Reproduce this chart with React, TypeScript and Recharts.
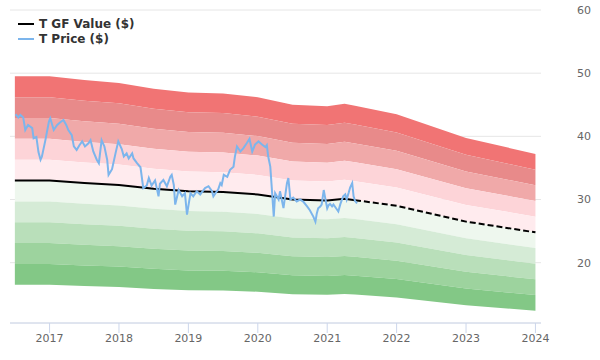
import React from "react";
import {
  ComposedChart,
  Area,
  Line,
  XAxis,
  YAxis,
  CartesianGrid,
  Legend,
} from "recharts";

// GF Value, dates as decimal years
const gfDates = [
  2016.5, 2017.0, 2017.5, 2018.0, 2018.5, 2019.0, 2019.5, 2020.0, 2020.5,
  2021.0, 2021.25, 2021.4,
];
const gfValues = [
  33.0, 33.0, 32.6, 32.3, 31.7, 31.3, 31.2, 30.8, 30.0, 29.85, 30.1, 29.9,
];
// projected part (dashed)
const gfFutureDates = [2021.4, 2022.0, 2023.0, 2024.0];
const gfFutureValues = [29.9, 29.0, 26.5, 24.8];

// T price
const priceDates = [
  2016.51, 2016.55, 2016.58, 2016.62, 2016.65, 2016.69, 2016.75, 2016.77,
  2016.81, 2016.84, 2016.87, 2016.89, 2016.94, 2016.99, 2017.01, 2017.06,
  2017.11, 2017.15, 2017.2, 2017.24, 2017.27, 2017.32, 2017.35, 2017.39,
  2017.43, 2017.47, 2017.51, 2017.56, 2017.59, 2017.63, 2017.68, 2017.71,
  2017.75, 2017.79, 2017.83, 2017.85, 2017.9, 2017.95, 2017.99, 2018.04,
  2018.07, 2018.11, 2018.14, 2018.19, 2018.21, 2018.26, 2018.31, 2018.35,
  2018.4, 2018.43, 2018.47, 2018.52, 2018.57, 2018.59, 2018.64, 2018.69,
  2018.74, 2018.76, 2018.79, 2018.81, 2018.86, 2018.91, 2018.95, 2018.98,
  2019.03, 2019.07, 2019.12, 2019.17, 2019.24, 2019.29, 2019.34, 2019.36,
  2019.41, 2019.43, 2019.46, 2019.48, 2019.51, 2019.56, 2019.6, 2019.65,
  2019.67, 2019.7, 2019.75, 2019.79, 2019.84, 2019.88, 2019.92, 2019.96,
  2020.01, 2020.06, 2020.11, 2020.13, 2020.15, 2020.18, 2020.2, 2020.23,
  2020.25, 2020.3, 2020.32, 2020.37, 2020.42, 2020.44, 2020.47, 2020.51,
  2020.56, 2020.61, 2020.66, 2020.71, 2020.75, 2020.8, 2020.83, 2020.85,
  2020.87, 2020.9, 2020.92, 2020.95, 2020.97, 2021.0, 2021.02, 2021.04,
  2021.07, 2021.09, 2021.11, 2021.16, 2021.19, 2021.23, 2021.26, 2021.28,
  2021.31, 2021.33, 2021.36, 2021.38, 2021.4, 2021.43,
];
const priceValues = [
  43.5, 43.0, 43.4, 43.0, 41.0, 41.8, 41.3, 39.7, 39.9, 37.5, 36.3, 36.8,
  39.4, 42.3, 42.85, 41.0, 41.8, 42.2, 42.6, 41.8, 41.0, 40.2, 38.4, 37.85,
  38.6, 39.2, 38.4, 38.9, 39.4, 37.6, 36.3, 35.75, 39.4, 38.4, 36.3, 33.9,
  34.8, 37.3, 39.2, 38.0, 36.8, 37.3, 36.5, 37.3, 36.5, 35.75, 35.1, 31.8,
  32.2, 33.4, 32.2, 33.0, 30.5, 32.5, 33.1, 32.1, 33.6, 33.9, 32.3, 29.2,
  31.5, 30.5, 31.0, 27.6, 31.0, 30.5, 31.3, 30.8, 31.8, 32.1, 31.3, 30.5,
  31.3, 31.6, 32.6, 32.3, 33.9, 33.6, 34.7, 35.2, 36.8, 38.4, 37.6, 38.1,
  38.9, 39.6, 37.6, 38.7, 39.2, 38.7, 38.3, 38.6, 36.8, 35.2, 32.05, 27.3,
  31.0, 30.0, 31.3, 28.65, 32.6, 33.4, 30.0, 30.3, 29.7, 30.0, 29.6, 28.9,
  28.3, 27.3, 26.5, 27.8, 28.6, 28.9, 29.2, 31.5, 30.3, 28.6, 29.1, 29.3,
  28.9, 29.2, 28.9, 28.1, 29.3, 30.5, 30.8, 30.0, 31.1, 31.9, 32.6, 30.5,
  29.8, 29.4,
];

// valuation bands: lower multiple of GF Value, each band 10% wide
const bandMultiples = [1.4, 1.3, 1.2, 1.1, 1.0, 0.9, 0.8, 0.7, 0.6, 0.5];
const bandColors = [
  "#f17474",
  "#e88a8a",
  "#f0a9a9",
  "#fdd4d8",
  "#ffebee",
  "#eef7ee",
  "#d5ebd6",
  "#b9dfba",
  "#9dd39e",
  "#83c886",
];

const yearTicks = [2017, 2018, 2019, 2020, 2021, 2022, 2023, 2024];
const priceTicks = [20, 30, 40, 50, 60];

const legendItems = [
  { name: "T GF Value ($)", color: "#000000" },
  { name: "T Price ($)", color: "#7cb5ec" },
];

const gfPast = gfDates.map((t, i) => ({ t, gf: gfValues[i] }));
const gfFuture = gfFutureDates.map((t, i) => ({ t, gf: gfFutureValues[i] }));
const gfAll = [...gfPast, ...gfFuture.slice(1)];
const priceData = priceDates.map((t, i) => ({ t, price: priceValues[i] }));

const bands = bandMultiples.map((m) =>
  gfAll.map((p) => ({ t: p.t, range: [p.gf * m, p.gf * (m + 0.1)] }))
);

const renderLegend = () => (
  <div style={{ fontSize: 12, fontWeight: "bold", color: "#333" }}>
    {legendItems.map((item) => (
      <div
        key={item.name}
        style={{ display: "flex", alignItems: "center", height: 15 }}
      >
        <span
          style={{
            display: "inline-block",
            width: 16,
            height: 2,
            background: item.color,
            marginRight: 5,
          }}
        />
        {item.name}
      </div>
    ))}
  </div>
);

const App: React.FC = () => {
  return (
    <div
      style={{
        position: "absolute",
        left: 0,
        top: 0,
        fontFamily: "DejaVu Sans",
        background: "#fff",
      }}
    >
      <ComposedChart
        width={600}
        height={360}
        margin={{ top: 10, right: 0, bottom: 0, left: 10 }}
      >
        <CartesianGrid vertical={false} stroke="#e6e6e6" />
        <XAxis
          type="number"
          dataKey="t"
          domain={[2016.43, 2024.08]}
          ticks={yearTicks}
          allowDataOverflow
          height={37}
          stroke="#ccd6eb"
          tickSize={10}
          tickMargin={1}
          tick={{ fill: "#666", fontSize: 11 }}
        />
        <YAxis
          orientation="right"
          type="number"
          domain={[10.45, 60]}
          ticks={priceTicks}
          allowDataOverflow
          width={59}
          axisLine={false}
          tickLine={false}
          tickSize={0}
          tickMargin={36}
          tick={{ fill: "#666", fontSize: 11 }}
        />
        {bands.map((band, i) => (
          <Area
            key={`band-${i}`}
            data={band}
            dataKey="range"
            type="linear"
            stroke="none"
            fill={bandColors[i]}
            fillOpacity={1}
            isAnimationActive={false}
            legendType="none"
          />
        ))}
        <Line
          data={gfPast}
          dataKey="gf"
          type="linear"
          stroke="#000"
          strokeWidth={2}
          dot={false}
          isAnimationActive={false}
        />
        <Line
          data={gfFuture}
          dataKey="gf"
          type="linear"
          stroke="#000"
          strokeWidth={2}
          strokeDasharray="6 3"
          dot={false}
          isAnimationActive={false}
        />
        <Line
          data={priceData}
          dataKey="price"
          type="linear"
          stroke="#7cb5ec"
          strokeWidth={2}
          dot={false}
          isAnimationActive={false}
        />
        <Legend
          layout="horizontal"
          align="center"
          verticalAlign="middle"
          content={renderLegend}
          wrapperStyle={{ top: 16, left: 18, width: "auto" }}
        />
      </ComposedChart>
    </div>
  );
};

export default App;
